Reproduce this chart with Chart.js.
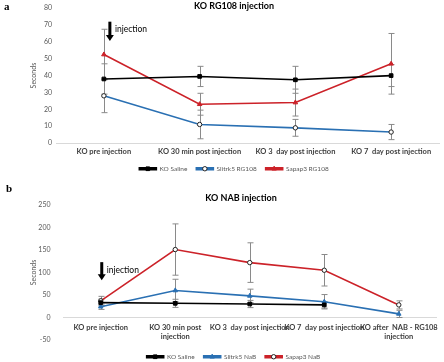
<!DOCTYPE html>
<html>
<head>
<meta charset="utf-8">
<script src="https://cdn.jsdelivr.net/npm/chart.js@4"></script>
<style>
  body { margin: 0; width: 444px; height: 362px; position: relative; background: #fff; overflow: hidden; }
  canvas { position: absolute; left: 0; }
  #chartA { top: 0; }
  #chartB { top: 180px; }
  .panel { position: absolute; font: bold 11px "Liberation Serif", serif; color: #000; }
  .ttl { position: absolute; font: bold 9px Lato, sans-serif; color: #000; white-space: nowrap; transform: translateX(-50%); }
</style>
</head>
<body>
<canvas id="chartA" width="444" height="182"></canvas>
<canvas id="chartB" width="444" height="190"></canvas>
<div class="panel" style="left:4px;top:0px">a</div>
<div class="panel" style="left:6px;top:182px">b</div>
<div class="ttl" style="left:234px;top:0px">KO RG108 injection</div>
<div class="ttl" style="left:241px;top:192px">KO NAB injection</div>
<script>
// panel a
const labelsA = ['KO pre injection', 'KO 30 min post injection', 'KO 3  day post injection', 'KO 7  day post injection'];
const salineA = [38, 39.5, 37.5, 40];
const salineAErr = [9, 6, 8, 6.5];
const slitrkA = [28, 11, 9, 6.5];
const slitrkAErr = [10, 8.5, 5, 4.5];
const sapapA = [52.5, 23, 24, 47];
const sapapAErr = [15, 6.5, 8, 18];

// panel b
const labelsB = ['KO pre injection', ['KO 30 min post', 'injection'], 'KO 3  day post injection', 'KO 7  day post injection', ['KO after  NAB - RG108', 'injection']];
const salineB = [33, 31.5, 30, 28, null];
const salineBErr = [8, 9, 8, 7, 0];
const slitrkB = [24, 60, 48, 35, 8];
const slitrkBErr = [6, 25, 15, 16, 8];
const sapapB = [37, 151, 122, 105, 28];
const sapapBErr = [10, 57, 44, 35, 9];

Chart.defaults.font.family = 'Lato, sans-serif';
Chart.defaults.animation = false;

const BLACK = '#000000', BLUE = '#2a70b3', RED = '#cc2229';

const errorBars = {
  id: 'errorBars',
  beforeDatasetsDraw(chart) {
    const ctx = chart.ctx, ys = chart.scales.y;
    ctx.save();
    ctx.strokeStyle = '#8a8a8a';
    ctx.lineWidth = 1;
    chart.data.datasets.forEach((ds, i) => {
      chart.getDatasetMeta(i).data.forEach((pt, j) => {
        const v = ds.data[j], e = ds.err[j];
        if (v == null || !e) return;
        const x = Math.round(pt.x) + 0.5;
        const top = ys.getPixelForValue(v + e), bot = ys.getPixelForValue(v - e);
        ctx.beginPath();
        ctx.moveTo(x, top); ctx.lineTo(x, bot);
        ctx.moveTo(x - 3, top); ctx.lineTo(x + 3, top);
        ctx.moveTo(x - 3, bot); ctx.lineTo(x + 3, bot);
        ctx.stroke();
      });
    });
    ctx.restore();
  }
};

const injectionNote = {
  id: 'injectionNote',
  afterDatasetsDraw(chart, args, opts) {
    if (!opts || opts.from == null) return;
    const ctx = chart.ctx, xs = chart.scales.x, ys = chart.scales.y;
    const x = xs.getPixelForValue(0) + opts.dx;
    const y1 = ys.getPixelForValue(opts.from), y2 = ys.getPixelForValue(opts.to);
    ctx.save();
    ctx.fillStyle = '#000';
    ctx.fillRect(x - 1.5, y1, 3, y2 - y1 - 5);
    ctx.beginPath();
    ctx.moveTo(x - 4, y2 - 6); ctx.lineTo(x + 4, y2 - 6); ctx.lineTo(x, y2);
    ctx.closePath();
    ctx.fill();
    ctx.font = '8.5px Lato, sans-serif';
    ctx.textBaseline = 'middle';
    ctx.fillText('injection', x + 5, y1 + opts.ty);
    ctx.restore();
  }
};

// marker in the middle of each legend line, like the excel legend
const legendMarkers = {
  id: 'legendMarkers',
  afterDraw(chart) {
    const lg = chart.legend;
    if (!lg || !lg.legendHitBoxes) return;
    const ctx = chart.ctx;
    const bw = lg.options.labels.boxWidth;
    lg.legendHitBoxes.forEach((hb, i) => {
      const ds = chart.data.datasets[i];
      ctx.save();
      ctx.fillStyle = ds.pointBackgroundColor;
      ctx.strokeStyle = ds.pointBorderColor;
      ctx.lineWidth = 1;
      Chart.helpers.drawPoint(ctx, { pointStyle: ds.pointStyle, radius: ds.pointRadius, borderWidth: 1, rotation: 0 },
        hb.left + bw / 2, hb.top + hb.height / 2);
      ctx.restore();
    });
  }
};

function series(label, data, err, color, style, hollow) {
  return {
    label: label, data: data, err: err,
    borderColor: color, backgroundColor: color,
    borderWidth: 1.6,
    pointStyle: style,
    pointRadius: style === 'circle' ? 2.2 : 2.6,
    pointBorderColor: style === 'circle' ? '#222' : color,
    pointBackgroundColor: hollow ? '#fff' : color,
    pointBorderWidth: 1,
    tension: 0,
    spanGaps: false
  };
}

function makeOptions(cfg) {
  const scales = {
    x: {
      position: cfg.xPos,
      offset: true,
      grid: { display: false, drawTicks: false },
      border: { display: true, color: '#d9d9d9' },
      ticks: { color: '#404040', font: { size: 7.5, weight: 'bold' }, maxRotation: 0, autoSkip: false, padding: cfg.xPad },
      afterFit: s => { if (cfg.xH != null) s.height = cfg.xH; }
    },
    y: {
      min: cfg.min, max: cfg.max,
      grid: { display: false, drawTicks: false },
      border: { display: false },
      ticks: { stepSize: cfg.step, color: '#595959', font: { size: 7 }, padding: cfg.yPad },
      title: { display: true, text: 'Seconds', color: '#595959', font: { size: 7 }, padding: 2 },
      afterFit: s => { s.width = cfg.yW; }
    }
  };
  if (cfg.gap) {
    // empty spacer between plot and legend
    scales.x2 = {
      type: 'category', position: 'bottom',
      grid: { display: false }, border: { display: false }, ticks: { display: false },
      afterFit: s => { s.height = cfg.gap; }
    };
  }
  return {
    responsive: false,
    layout: { padding: { left: 28, right: cfg.right, top: cfg.top, bottom: 0 } },
    plugins: {
      title: { display: false },
      tooltip: { enabled: false },
      legend: {
        position: 'bottom',
        labels: { boxWidth: 17, boxHeight: 2, padding: 9, color: '#595959', font: { size: 6.5 } }
      },
      injectionNote: cfg.note
    },
    scales: scales
  };
}

new Chart(document.getElementById('chartA'), {
  type: 'line',
  data: {
    labels: labelsA,
    datasets: [
      series('KO Saline', salineA, salineAErr, BLACK, 'rect'),
      series('Slitrk5 RG108', slitrkA, slitrkAErr, BLUE, 'circle', true),
      series('Sapap3 RG108', sapapA, sapapAErr, RED, 'triangle')
    ]
  },
  options: makeOptions({ right: 4, top: 7, xPos: 'bottom', xPad: 4.5, xH: 13.5,
    min: 0, max: 80, step: 10, yW: 28, yPad: 4,
    note: { dx: 6, from: 72, to: 60.5, ty: 8 } }),
  plugins: [errorBars, injectionNote, legendMarkers]
});

new Chart(document.getElementById('chartB'), {
  type: 'line',
  data: {
    labels: labelsB,
    datasets: [
      series('KO Saline', salineB, salineBErr, BLACK, 'rect'),
      series('Slitrk5 NaB', slitrkB, slitrkBErr, BLUE, 'triangle'),
      series('Sapap3 NaB', sapapB, sapapBErr, RED, 'circle', true)
    ]
  },
  options: makeOptions({ right: 5, top: 25, xPos: { y: 0 }, xPad: 5.5, xH: null, gap: 4.5,
    min: -50, max: 250, step: 50, yW: 35.5, yPad: 13,
    note: { dx: 1, from: 123, to: 83, ty: 8 } }),
  plugins: [errorBars, injectionNote, legendMarkers]
});
</script>
</body>
</html>
